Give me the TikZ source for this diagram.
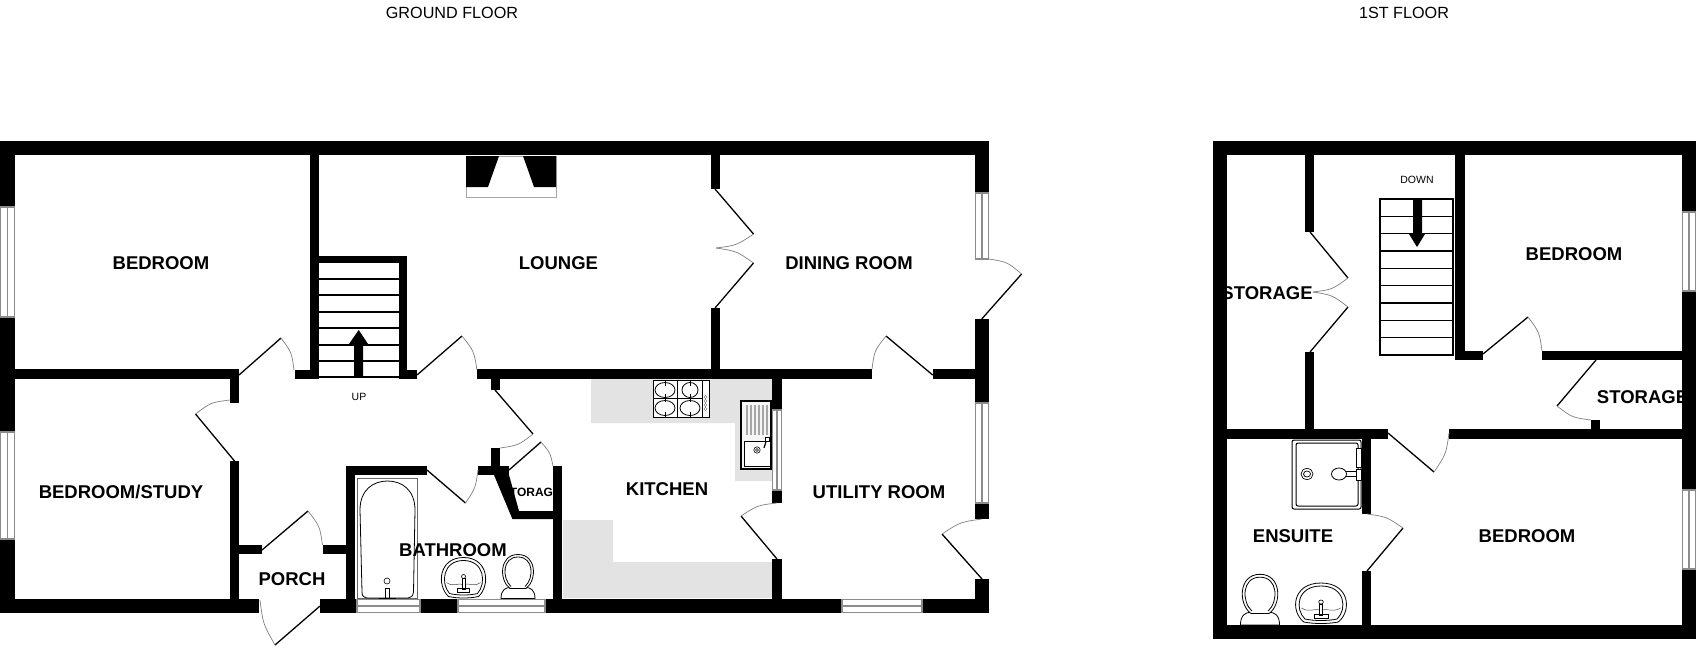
\documentclass[tikz,border=0pt]{standalone}
\usepackage{fontspec}
\setmainfont{Liberation Sans}
\usetikzlibrary{calc}
\tikzset{
  wall/.style={fill=black,draw=none},
  leaf/.style={draw=black,line width=1.3pt},
  swing/.style={draw=black!50,line width=0.7pt},
  thin line/.style={draw=black,line width=0.8pt},
  stairline/.style={draw=black,line width=1.1pt},
  glass/.style={draw=black!45,line width=1.1pt,fill=white},
  work/.style={fill=black!11,draw=none},
  room/.style={inner sep=0pt,yshift=-0.8pt,font=\fontsize{18.5}{20}\selectfont\bfseries},
  smallroom/.style={inner sep=0pt,font=\fontsize{12}{14}\selectfont\bfseries},
  note/.style={inner sep=0pt,font=\fontsize{10.5}{12}\selectfont},
  title/.style={inner sep=0pt,yshift=-1pt,font=\fontsize{16.2}{18}\selectfont}
}
\newcommand{\wl}[4]{\fill[wall] (#1,#2) rectangle (#3,#4);}
\newcommand{\winv}[4]{\draw[glass] (#1,#2) rectangle (#3,#4); \draw[glass] ({(#1+#3)/2},#2) -- ({(#1+#3)/2},#4);}
\newcommand{\winh}[4]{\draw[glass] (#1,#2) rectangle (#3,#4); \draw[glass] (#1,{(#2+#4)/2}) -- (#3,{(#2+#4)/2});}
% hinge, tip of leaf, end of swing
\newcommand{\doorway}[3]{\draw[leaf] (#1) -- (#2); \draw[swing] (#2) .. controls ($(#1)!1.085!($(#2)!.5!(#3)$)$) .. (#3);}
\newcommand{\basin}[4]{\begin{scope}[shift={(#1,#2)},xscale=#3,yscale=#4]
  \draw[thin line,fill=white] (-15,19) .. controls (-27,8) and (-25,-20) .. (0,-20) .. controls (25,-20) and (27,8) .. (15,19) .. controls (6,21) and (-6,21) .. cycle;
  \draw[thin line] (-14,16) .. controls (-23,6) and (-21,-17) .. (0,-17) .. controls (21,-17) and (23,6) .. (14,16) .. controls (6,18) and (-6,18) .. cycle;
  \draw[draw=black!70,line width=.5pt] (-17,5) .. controls (-10,10) and (-6,5) .. (0,7) .. controls (6,5) and (10,10) .. (17,5);
  \draw[line width=.6pt] (0,-1) circle (2);
  \draw[line width=.6pt,fill=white] (-1.5,1) rectangle (1.5,12);
  \draw[line width=.6pt] (-6,11) rectangle (6,15);
\end{scope}}
\newcommand{\toilet}[3]{\begin{scope}[shift={(#1,#2)},scale=#3]
  \draw[thin line,fill=white] (-17,26) .. controls (-17,17) and (-12,15) .. (-8,15) -- (8,15) .. controls (12,15) and (17,17) .. (17,26) -- cycle;
  \draw[thin line,fill=white] (-8,16) .. controls (-19,8) and (-19,-18) .. (0,-18) .. controls (19,-18) and (19,8) .. (8,16) -- cycle;
  \draw[thin line] (-7,14) .. controls (-16,6) and (-16,-15.5) .. (0,-15.5) .. controls (16,-15.5) and (16,6) .. (7,14);
\end{scope}}
\begin{document}
\begin{tikzpicture}[x=1pt,y=-1pt]
\useasboundingbox (0,0) rectangle (1704,648);
\fill[white] (0,0) rectangle (1704,648);

% kitchen worktops
\fill[work] (591,379) -- (772,379) -- (772,481) -- (735,481) -- (735,423) -- (591,423) -- cycle;
\fill[work] (563,520) -- (613,520) -- (613,562) -- (772,562) -- (772,598) -- (563,598) -- cycle;

% fireplace
\draw[draw=black!35,line width=.7pt] (466,156) rectangle (556,197);
\fill[black] (466,156) -- (499,156) -- (488,187) -- (466,187) -- cycle;
\fill[black] (523,156) -- (556,156) -- (556,187) -- (534,187) -- cycle;

% hob
\draw[thin line,fill=white] (653,380) rectangle (709,417);
\foreach \bx/\by/\brx in {665/390/10,690/390/8,665/408/10,690/408/10}
  \draw[thin line] (\bx,\by) ellipse ({\brx} and 7.5);
\draw[thin line] (677,380) -- (677,417) (653,398.5) -- (702,398.5) (702,380) -- (702,417);
\draw[thin line] (665,380) -- (665,386) (665,394) -- (665,402) (665,412) -- (665,417) (690,380) -- (690,386) (690,394) -- (690,402) (690,412) -- (690,417);
\foreach \by in {397,401,405,409}
  \draw[black!60,line width=.4pt] (705.5,\by) circle (1.6);

% sink
\draw[line width=1.1pt,fill=black!4] (741,401) rectangle (771,469);
\foreach \gx in {747,751,755,759,763,767}
  \fill[black!35] (\gx-1.3,404.5) rectangle (\gx+1.3,435);
\draw[thin line,fill=white] (744,441) rectangle (770,466);
\draw[line width=.6pt] (757,450) circle (3.2) (757,450) circle (1.5);
\draw[line width=1.2pt] (764,448) -- (766.5,440);
\draw[line width=.7pt,fill=white] (765,437) rectangle (769,441);

% bath
\draw[draw=black!60,line width=1pt] (357,478) rectangle (417,598);
\draw[thin line] (360,510) .. controls (360,490) and (373,481) .. (387.5,481) .. controls (402,481) and (415,490) .. (415,510) -- (413.5,592) .. controls (413,596) and (411,598) .. (408,598) -- (367,598) .. controls (364,598) and (362,596) .. (362,592) -- cycle;
\draw[line width=.6pt] (387,581) circle (3);
\draw[line width=.6pt] (385,588) rectangle (389.5,598);
\draw[line width=.6pt] (379,598) -- (396,598);

% sanitary ware, ground floor
\basin{463.5}{577.5}{1}{1}
\toilet{518}{572.5}{1}

% shower
\draw[line width=1pt,rounded corners=2pt] (1292,440) rectangle (1361,509);
\draw[line width=1pt,rounded corners=2pt] (1296,443) rectangle (1358,506);
\draw[line width=.7pt] (1307,474) ellipse (6 and 5.5) (1307,474) ellipse (3.5 and 3);
\draw[thin line,fill=white] (1345,471) rectangle (1360,476.5);
\draw[thin line,fill=white] (1339,474) ellipse (7.5 and 6);
\draw[line width=.6pt,fill=white] (1356,448) rectangle (1361,467);
\draw[line width=.6pt,fill=white] (1356,469) rectangle (1361,480);

% sanitary ware, first floor
\toilet{1260}{595}{1.15}
\basin{1321}{603}{1.15}{1}

% stairs
\foreach \sy in {279,295,312,328,345,361,377}
  \draw[stairline] (318,\sy) -- (399,\sy);
\fill[black] (354,377) -- (354,344) -- (349,344) -- (358.7,330) -- (368,344) -- (363,344) -- (363,377) -- cycle;
\draw[stairline] (1380,199) rectangle (1453,355);
\foreach \sy in {216.3,233.7,251,268.3,285.7,303,320.3,337.7}
  \draw[stairline] (1380,\sy) -- (1453,\sy);
\fill[black] (1413,199) -- (1422,199) -- (1422,234) -- (1425,234) -- (1417,247) -- (1409,234) -- (1413,234) -- cycle;

% labels partly behind walls
\node[smallroom] (lstorea) at (531.5,492) {STORAGE};
\node[room] (lstoreb) at (1267,292) {STORAGE};
\node[room] (lstorec) at (1642.5,396) {STORAGE};

% labels
\node[room] (lbeda) at (161,262) {BEDROOM};
\node[room] (llounge) at (558.5,262) {LOUNGE};
\node[room] (ldining) at (849,262) {DINING ROOM};
\node[room] (lstudy) at (121,491) {BEDROOM/STUDY};
\node[room] (lporch) at (292,578) {PORCH};
\node[room] (lbath) at (453,549) {BATHROOM};
\node[room] (lkitchen) at (667,488) {KITCHEN};
\node[room] (lutility) at (879,491) {UTILITY ROOM};
\node[room] (lbedb) at (1574,253) {BEDROOM};
\node[room] (lensuite) at (1293,535) {ENSUITE};
\node[room] (lbedc) at (1527,535) {BEDROOM};
\node[note] (lup) at (359,397) {UP};
\node[note] (ldown) at (1417,180) {DOWN};
\node[title] (tground) at (452,12) {GROUND FLOOR};
\node[title] (tfirst) at (1404,12) {1ST FLOOR};

% ground floor walls
\wl{0}{141}{989}{155}
\wl{0}{155}{15}{207}
\wl{0}{317}{15}{432}
\wl{0}{539}{15}{613}
\wl{0}{599}{259}{613}
\wl{320}{599}{357}{613}
\wl{420}{599}{458}{613}
\wl{545}{599}{842}{613}
\wl{922}{599}{989}{613}
\wl{975}{155}{989}{193}
\wl{975}{319}{989}{403}
\wl{975}{503}{989}{519}
\wl{975}{579}{989}{613}
\wl{310}{155}{319}{379}
\wl{310}{256}{407}{263}
\wl{399}{256}{407}{379}
\wl{295}{370}{319}{379}
\wl{399}{370}{417}{379}
\wl{15}{369}{239}{379}
\wl{230}{369}{239}{403}
\wl{230}{461}{239}{599}
\wl{239}{545}{262}{554}
\wl{323}{545}{346}{554}
\wl{346}{466}{355}{599}
\wl{346}{466}{427}{475}
\wl{478}{466}{509}{475}
\wl{491}{448}{500}{475}
\fill[wall] (494,475) -- (509,475) -- (519,511) -- (553,511) -- (553,519) -- (512.4,519) -- cycle;
\wl{553}{466}{562}{599}
\wl{477}{369}{872}{379}
\wl{491}{379}{500}{390}
\wl{711}{155}{720}{189}
\wl{711}{308}{720}{369}
\wl{933}{369}{975}{379}
\wl{772}{369}{782}{410}
\wl{772}{490}{782}{503}
\wl{772}{559}{782}{599}

% ground floor windows
\winv{0.7}{207}{14.5}{317}
\winv{0.7}{432}{14.5}{539}
\winv{975.5}{193}{988.5}{259}
\winv{975.5}{403}{988.5}{503}
\winv{772.5}{410}{781.5}{490}
\winh{357}{599.5}{420}{612.5}
\winh{458}{599.5}{545}{612.5}
\winh{842}{599.5}{922}{612.5}

% ground floor doors
\coordinate (ha) at (239,375); \coordinate (ta) at (281,338); \coordinate (ea) at (294,370);
\doorway{ha}{ta}{ea}
\coordinate (hb) at (417,375); \coordinate (tb) at (462,336); \coordinate (eb) at (477,370);
\doorway{hb}{tb}{eb}
\coordinate (hc) at (234.5,461); \coordinate (tc) at (195.5,414); \coordinate (ec) at (230,400);
\doorway{hc}{tc}{ec}
\coordinate (hd) at (262,550); \coordinate (td) at (308,511); \coordinate (ed) at (322.5,545);
\doorway{hd}{td}{ed}
\coordinate (he) at (320,606); \coordinate (te) at (275,645); \coordinate (ee) at (260,600);
\doorway{he}{te}{ee}
\coordinate (hf) at (427,470); \coordinate (tf) at (465.5,503); \coordinate (ef) at (478,470);
\doorway{hf}{tf}{ef}
\coordinate (hg) at (509,470); \coordinate (tg) at (541,442); \coordinate (eg) at (553,466);
\doorway{hg}{tg}{eg}
\coordinate (hh) at (495,390); \coordinate (th) at (533,434); \coordinate (eh) at (500,448);
\doorway{hh}{th}{eh}
\coordinate (hi) at (715,189); \coordinate (ti) at (753.5,234); \coordinate (em) at (716,248);
\doorway{hi}{ti}{em}
\coordinate (hj) at (715,308); \coordinate (tj) at (753.5,263);
\doorway{hj}{tj}{em}
\coordinate (hk) at (981.7,319); \coordinate (tk) at (1021.6,274); \coordinate (ek) at (989,259);
\doorway{hk}{tk}{ek}
\coordinate (hl) at (932.7,375); \coordinate (tl) at (886,336); \coordinate (el) at (872,369);
\doorway{hl}{tl}{el}
\coordinate (hn) at (777,559); \coordinate (tn) at (741,516); \coordinate (en) at (777,503);
\doorway{hn}{tn}{en}
\coordinate (ho) at (982,579); \coordinate (to) at (942,534); \coordinate (eo) at (982,519);
\doorway{ho}{to}{eo}

% first floor walls
\wl{1213}{141}{1696}{155}
\wl{1213}{155}{1227}{639}
\wl{1213}{625}{1696}{639}
\wl{1682}{155}{1696}{212}
\wl{1682}{291}{1696}{490}
\wl{1682}{569}{1696}{639}
\wl{1305}{155}{1314}{232}
\wl{1305}{352}{1314}{429}
\wl{1227}{429}{1388}{439}
\wl{1449}{429}{1682}{439}
\wl{1455}{155}{1465}{360}
\wl{1455}{351}{1483}{360}
\wl{1542}{351}{1682}{360}
\wl{1591}{420}{1600}{429}
\wl{1362}{439}{1371}{514}
\wl{1362}{571}{1371}{625}

% first floor windows
\winv{1682.5}{212}{1695.5}{291}
\winv{1682.5}{490}{1695.5}{569}

% first floor doors
\coordinate (hp) at (1310,232); \coordinate (tp) at (1348,278); \coordinate (ep) at (1313,292);
\doorway{hp}{tp}{ep}
\coordinate (hq) at (1310,352); \coordinate (tq) at (1348,307);
\doorway{hq}{tq}{ep}
\coordinate (hr) at (1483,354); \coordinate (tr) at (1528,317); \coordinate (er) at (1542,351);
\doorway{hr}{tr}{er}
\coordinate (hs) at (1596,360); \coordinate (ts) at (1557,406); \coordinate (es) at (1591,420);
\doorway{hs}{ts}{es}
\coordinate (ht) at (1388,433); \coordinate (tt) at (1434,472); \coordinate (et) at (1449,433);
\doorway{ht}{tt}{et}
\coordinate (hu) at (1367,571); \coordinate (tu) at (1403,528); \coordinate (eu) at (1367,514);
\doorway{hu}{tu}{eu}
\end{tikzpicture}
\end{document}
